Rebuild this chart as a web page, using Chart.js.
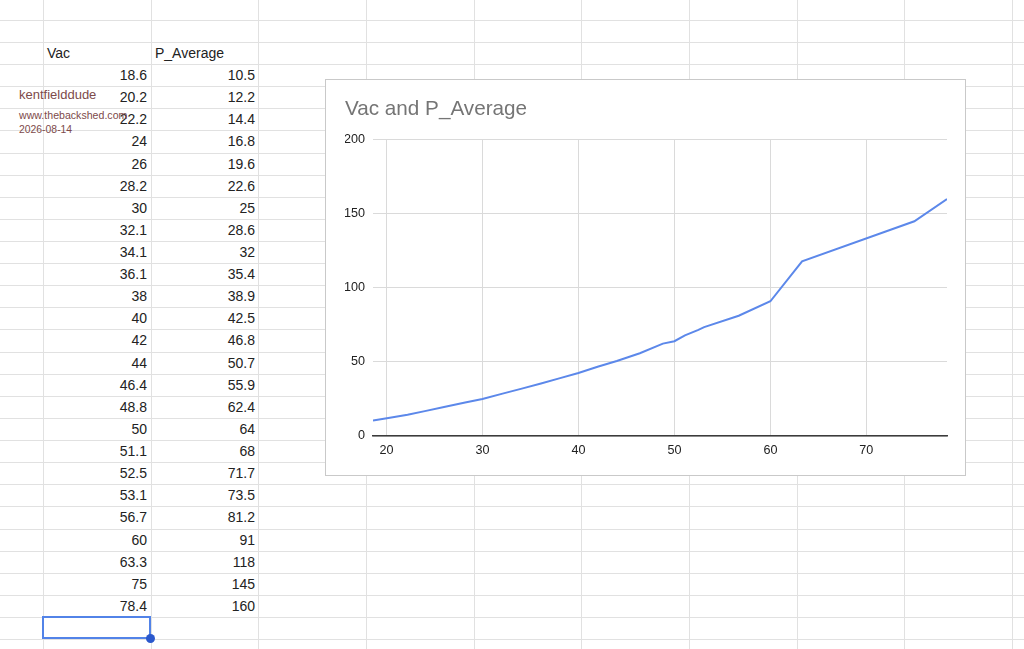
<!DOCTYPE html>
<html>
<head>
<meta charset="utf-8">
<script src="https://cdn.jsdelivr.net/npm/chart.js@4.4.1/dist/chart.umd.min.js"></script>
<style>
  html, body { margin: 0; padding: 0; background: #fff; }
  body { width: 1024px; height: 649px; position: relative; overflow: hidden; font-family: "Liberation Sans", Arial, sans-serif; }
  .vline { position: absolute; top: 0; width: 1px; height: 649px; background: #e1e1e1; }
  .hline { position: absolute; left: 0; height: 1px; width: 1024px; background: #e1e1e1; }
  .cell { position: absolute; height: 22px; line-height: 22px; font-size: 14px; color: #222; white-space: nowrap; }
  .num { text-align: right; }
  .wm { position: absolute; color: #7d4a4a; white-space: nowrap; line-height: 1; }
  #sel { position: absolute; left: 42px; top: 616px; width: 105px; height: 19px; border: 2px solid #5283e8; }
  #dot { position: absolute; left: 146px; top: 634px; width: 9px; height: 9px; border-radius: 50%; background: #2b58cc; }
  #box { position: absolute; left: 325px; top: 79px; width: 639px; height: 395px; border: 1px solid #c9c9c9; background: #fff; }
</style>
</head>
<body>
<div id="sheet"></div>
<div class="wm" style="left:19px;top:88px;font-size:13px;">kentfielddude</div>
<div class="wm" style="left:19px;top:110px;font-size:10.6px;">www.thebackshed.com</div>
<div class="wm" style="left:19px;top:125px;font-size:10.4px;">2026-08-14</div>
<div id="sel"></div>
<div id="dot"></div>
<div id="box"><canvas id="myChart" width="639" height="395"></canvas></div>
<script>
// column headers and values as they appear in the sheet
const headers = ['Vac', 'P_Average'];
const vac = [18.6, 20.2, 22.2, 24, 26, 28.2, 30, 32.1, 34.1, 36.1, 38, 40, 42, 44, 46.4, 48.8, 50, 51.1, 52.5, 53.1, 56.7, 60, 63.3, 75, 78.4];
const pAverage = [10.5, 12.2, 14.4, 16.8, 19.6, 22.6, 25, 28.6, 32, 35.4, 38.9, 42.5, 46.8, 50.7, 55.9, 62.4, 64, 68, 71.7, 73.5, 81.2, 91, 118, 145, 160];

const chartTitle = 'Vac and P_Average';
const yTicks = [0, 50, 100, 150, 200];
const xTicks = [20, 30, 40, 50, 60, 70];

// spreadsheet grid
const sheet = document.getElementById('sheet');
const colX = [43, 150.7, 258.3, 366, 473.7, 581.3, 689, 796.7, 904.3, 1012];
const rowH = 22.115;
colX.forEach(x => {
    const d = document.createElement('div');
    d.className = 'vline';
    d.style.left = Math.round(x) + 'px';
    sheet.appendChild(d);
});
for (let k = -1; k <= 28; k++) {
    const d = document.createElement('div');
    d.className = 'hline';
    d.style.top = Math.round(42 + rowH * k) + 'px';
    sheet.appendChild(d);
}

function addCell(text, left, top, width, isNum) {
    const d = document.createElement('div');
    d.className = 'cell' + (isNum ? ' num' : '');
    d.style.left = left + 'px';
    d.style.top = top + 'px';
    d.style.width = width + 'px';
    d.textContent = text;
    sheet.appendChild(d);
}
addCell(headers[0], 47, 42, 100, false);
addCell(headers[1], 155, 42, 100, false);
vac.forEach((v, i) => {
    const top = Math.round(42 + rowH * (i + 1));
    addCell(String(v), 43, top, 104, true);
    addCell(String(pAverage[i]), 151, top, 104, true);
});

// chart
const points = vac.map((v, i) => ({ x: v, y: pAverage[i] }));
const tickFont = { family: 'Liberation Sans', size: 12.6 };

new Chart(document.getElementById('myChart').getContext('2d'), {
    type: 'line',
    data: {
        datasets: [{
            label: 'P_Average',
            data: points,
            borderColor: '#5c88ea',
            borderWidth: 2,
            pointRadius: 0,
            tension: 0,
            fill: false
        }]
    },
    options: {
        responsive: false,
        animation: false,
        devicePixelRatio: 1,
        layout: { padding: { left: 19, right: 18, top: 0, bottom: 0 } },
        plugins: {
            legend: { display: false },
            tooltip: { enabled: false },
            title: {
                display: true,
                text: chartTitle,
                align: 'start',
                color: '#757575',
                font: { family: 'Liberation Sans', size: 20.7, weight: 'normal' },
                padding: { top: 17, bottom: 18 }
            }
        },
        scales: {
            x: {
                type: 'linear',
                min: vac[0],
                max: vac[vac.length - 1],
                afterFit: s => { s.height = 39; },
                afterBuildTicks: s => { s.ticks = xTicks.map(v => ({ value: v })); },
                grid: { color: '#dadada', lineWidth: 1, drawTicks: false },
                border: { display: true, color: '#3c3c3c', width: 1.5 },
                ticks: { color: '#222', font: tickFont, padding: 7, maxRotation: 0, includeBounds: false }
            },
            y: {
                min: yTicks[0],
                max: yTicks[yTicks.length - 1],
                afterFit: s => { s.width = 28; },
                afterBuildTicks: s => { s.ticks = yTicks.map(v => ({ value: v })); },
                grid: { color: '#dadada', lineWidth: 1, drawTicks: false },
                border: { display: false },
                ticks: { color: '#222', font: tickFont, padding: 8 }
            }
        }
    }
});
</script>
</body>
</html>
